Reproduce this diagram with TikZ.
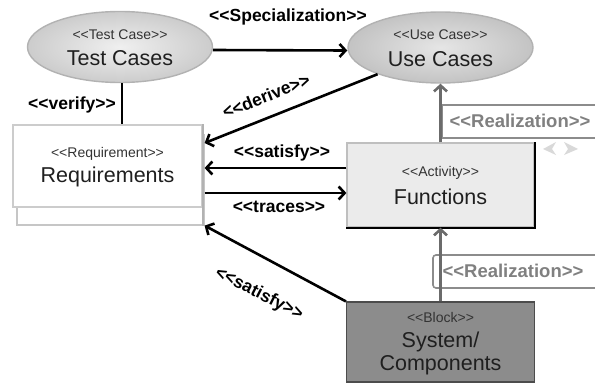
\documentclass[tikz,border=0pt]{standalone}
\usepackage{fontspec}
\newfontfamily\lsans{Liberation Sans}
\usetikzlibrary{arrows.meta,shapes.geometric}

\begin{document}
\begin{tikzpicture}[x=1pt,y=-1pt,
  usecase/.style={ellipse, minimum width=185pt, minimum height=71pt, inner sep=0pt,
    draw=gray!60, line width=1.4pt, inner color=gray!12, outer color=gray!40},
  stereo/.style={font=\lsans\fontsize{14}{16}\selectfont, text=black!80, inner sep=0pt},
  title/.style={font=\lsans\fontsize{21.5}{24}\selectfont, text=black!88, inner sep=0pt},
  lbl/.style={font=\lsans\bfseries\fontsize{17.5}{19}\selectfont, inner sep=0pt},
  rlbl/.style={lbl, font=\lsans\bfseries\fontsize{18.5}{20}\selectfont, text=black!50},
  plainbox/.style={rectangle, inner sep=0pt, line width=1.2pt},
  arr/.style={line width=2.6pt, -{Straight Barb[length=6pt,width=13pt]}},
  garr/.style={arr, draw=black!58},
  rbox/.style={draw=black!45, line width=1.6pt}
]
\useasboundingbox (0,0) rectangle (595,383);

% --- use-case ellipses ---
\node[usecase] (tc) at (120,47) {};
\node[stereo] (tcs) at (120,35) {<<Test Case>>};
\node[title]  (tct) at (120,58) {Test Cases};

\node[usecase, inner color=gray!20, outer color=gray!47] (uc) at (440.5,47.5) {};
\node[stereo] (ucs) at (440.5,35) {<<Use Case>>};
\node[title]  (uct) at (440.5,59) {Use Cases};

% --- requirements (stacked box) ---
\node[plainbox, draw=gray!45, fill=white, minimum width=187pt, minimum height=90pt] (reqb) at (110.5,180) {};
\node[plainbox, draw=gray!40, fill=white, minimum width=189pt, minimum height=82pt] (req) at (107.5,166) {};
\draw[gray!60, line width=2pt] (req.north east) -- (req.north east |- reqb.south east);
\node[stereo] (reqs) at (107.5,154) {<<Requirement>>};
\node[title]  (reqt) at (107.5,177) {Requirements};

% --- functions ---
\node[plainbox, draw=gray!50, fill=gray!16, minimum width=187pt, minimum height=84pt] (fn) at (440.5,185) {};
\draw[black, line width=2pt] (fn.north east) -- (fn.south east) -- (fn.south west);
\node[stereo] (fns) at (440.5,173) {<<Activity>>};
\node[title]  (fnt) at (440.5,197) {Functions};

% --- system / components ---
\node[plainbox, draw=black!70, fill=black!45, minimum width=188pt, minimum height=80pt] (sys) at (440.5,342) {};
\node[stereo] (syss) at (440.5,317) {<<Block>>};
\node[title]  (syst) at (440.5,342) {System/};
\node[title]  (sysc) at (440.5,365) {Components};

% --- realization tags ---
\draw[rbox] (595,105) -- (442,105) -- (442,138) -- (595,138);
\node[rlbl] (rz1) at (520,121) {<<Realization>>};
\draw[rbox, rounded corners=3pt] (595,255) -- (433,255) -- (433,288) -- (595,288);
\node[rlbl] (rz2) at (513,271) {<<Realization>>};
\fill[gray!30] (556,142) -- (543,149) -- (556,155) -- (552,149) -- cycle;
\fill[gray!30] (564,142) -- (578,149) -- (564,155) -- (568,149) -- cycle;

% --- connectors ---
\draw[arr] ([yshift=-3pt]tc.east) -- ([yshift=-3pt]uc.west);
\node[lbl] (lspec) at (288,17) {<<Specialization>>};

\draw[line width=2.6pt] ([xshift=2pt]tc.south) -- ([xshift=2pt]tc.south |- req.north);
\node[lbl] (lver) at (72,105) {<<verify>>};

\draw[arr] (uc.203) -- ([yshift=37pt]reqb.east);
\node[lbl, rotate=21.5] (lder) at (266,96) {<<derive>>};

\draw[arr] ([yshift=17pt]fn.west) -- ([yshift=12pt]reqb.east);
\node[lbl] (lsat) at (282,153) {<<satisfy>>};

\draw[arr] ([yshift=-13pt]reqb.east) -- ([yshift=-8pt]fn.west);
\node[lbl] (ltr) at (279,207) {<<traces>>};

\draw[arr] (sys.north west) -- (reqb.south east);
\node[lbl, rotate=-27] (lsat2) at (259,294) {<<satisfy>>};

\draw[garr] (fn.north) -- (uc.south);
\draw[garr] (sys.north) -- (fn.south);
\end{tikzpicture}
\end{document}
